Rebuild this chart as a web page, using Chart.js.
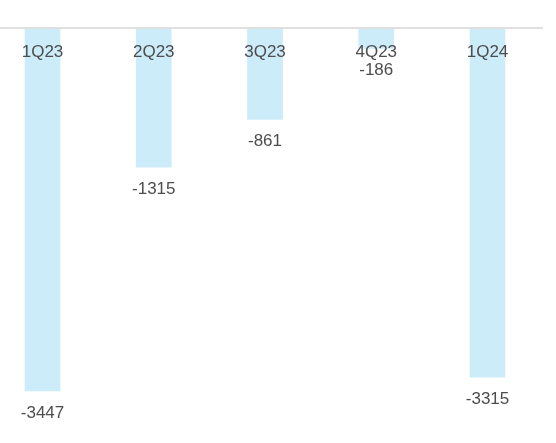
<!DOCTYPE html>
<html>
<head>
<meta charset="utf-8">
<script src="https://cdn.jsdelivr.net/npm/chart.js@4/dist/chart.umd.min.js"></script>
<style>
  html, body { margin: 0; padding: 0; background: #fff; }
  #parent { width: 556px; height: 443px; position: relative; }
</style>
</head>
<body>
<div id="parent"><canvas id="myChart"></canvas></div>
<script>
var quarters = ['1Q23', '2Q23', '3Q23', '4Q23', '1Q24'];
var values = [-3447, -1315, -861, -186, -3315];

var textColor = '#4d4d4d';
var labelFont = '17px "Liberation Sans", Arial, sans-serif';

// baseline across the top + category names and values
var labelsPlugin = {
    id: 'labels',
    afterDatasetsDraw: function (chart) {
        var ctx = chart.ctx;
        var y0 = chart.scales.y.getPixelForValue(0);
        ctx.save();
        ctx.strokeStyle = '#d6d6d6';
        ctx.lineWidth = 1.5;
        ctx.beginPath();
        ctx.moveTo(0, y0 - 1);
        ctx.lineTo(chart.width - 13, y0 - 1);
        ctx.stroke();

        ctx.font = labelFont;
        ctx.fillStyle = textColor;
        ctx.textAlign = 'center';
        ctx.textBaseline = 'middle';
        var meta = chart.getDatasetMeta(0);
        meta.data.forEach(function (bar, i) {
            ctx.fillText(quarters[i], bar.x, y0 + 23.5);
            ctx.fillText(String(values[i]), bar.x, bar.y + 22);
        });
        ctx.restore();
    }
};

var ctx = document.getElementById('myChart');
new Chart(ctx, {
    type: 'bar',
    data: {
        labels: quarters,
        datasets: [{
            data: values,
            backgroundColor: 'rgb(204,236,250)',
            borderWidth: 0,
            barThickness: 35,
            clip: false
        }]
    },
    options: {
        responsive: true,
        maintainAspectRatio: false,
        animation: false,
        layout: { padding: { left: 42.5, right: 68.5, top: 29, bottom: 25.5 } },
        plugins: { legend: { display: false }, tooltip: { enabled: false } },
        scales: {
            x: { display: false, offset: false },
            y: { display: false, min: -3700, max: 0 }
        }
    },
    plugins: [labelsPlugin]
});
</script>
</body>
</html>
